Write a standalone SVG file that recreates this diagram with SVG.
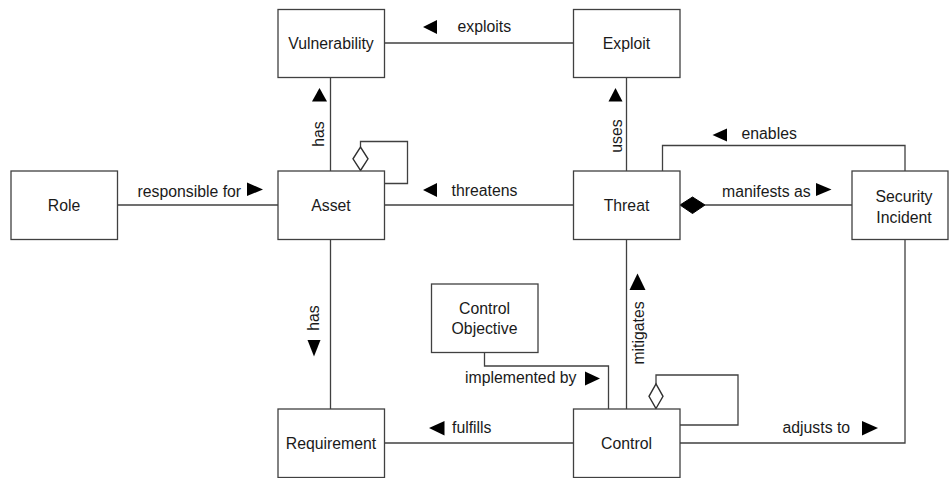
<svg xmlns="http://www.w3.org/2000/svg" width="949" height="478" viewBox="0 0 949 478">
<style>
.box{fill:#fff;stroke:#404040;stroke-width:1.3}
.ln{fill:none;stroke:#404040;stroke-width:1.3}
.t{font-family:"Liberation Sans",Arial,sans-serif;font-size:15.8px;fill:#1a1a1a;text-anchor:middle}
.l{font-family:"Liberation Sans",Arial,sans-serif;font-size:15.8px;fill:#1a1a1a}
.tri{fill:#000}
.od{fill:#fff;stroke:#303030;stroke-width:1.4}
.fd{fill:#000;stroke:#000;stroke-width:1}
</style>
<rect width="949" height="478" fill="#fff"/>
<g id="connectors">
<path class="ln" d="M384.5 43H573.5"/>
<path class="ln" d="M330.5 77.5V171"/>
<path class="ln" d="M360.5 147V141.5H407.5V183.5H384.5"/>
<path class="ln" d="M384.5 205H573.5"/>
<path class="ln" d="M117.5 205H278"/>
<path class="ln" d="M626.5 77.5V171"/>
<path class="ln" d="M662.5 171V145.5H905V171"/>
<path class="ln" d="M705 205H852"/>
<path class="ln" d="M330.5 239.5V409"/>
<path class="ln" d="M626.5 239.5V409"/>
<path class="ln" d="M484.5 352.5V366H608.5V409"/>
<path class="ln" d="M656 384V375H738V425H680"/>
<path class="ln" d="M384.5 443H573.5"/>
<path class="ln" d="M680 443H905V239.5"/>
<polygon class="od" points="360.5,170.5 368,158.8 360.5,147 353,158.8"/>
<polygon class="fd" points="680,205 692.5,197 705,205 692.5,213.5"/>
<polygon class="od" points="656,408.5 663,396.3 656,384 649,396.3"/>
<polygon class="tri" points="423,27 437,20 437,34"/>
<polygon class="tri" points="423,190 437,183 437,197"/>
<polygon class="tri" points="712.5,135 727,128.5 727,141.5"/>
<polygon class="tri" points="429,428 444.5,421 444.5,435.5"/>
<polygon class="tri" points="263,189.5 247,182.5 247,196"/>
<polygon class="tri" points="831.5,189.5 816,183 816,196"/>
<polygon class="tri" points="600,378.5 585,371.5 585,385.5"/>
<polygon class="tri" points="878,428 862,421 862,435.5"/>
<polygon class="tri" points="319.5,88 327,101.5 312,101.5"/>
<polygon class="tri" points="314,356.5 307.5,340 320.5,340"/>
<polygon class="tri" points="615.5,88 622.5,101.5 608.5,101.5"/>
<polygon class="tri" points="637.5,273.5 645.5,290 629.5,290"/>
<text class="l" x="457.5" y="32">exploits</text>
<text class="l" x="451.5" y="195.5">threatens</text>
<text class="l" x="741.5" y="139">enables</text>
<text class="l" x="722" y="197">manifests as</text>
<text class="l" x="137.5" y="197">responsible for</text>
<text class="l" x="465" y="382.5">implemented by</text>
<text class="l" x="452" y="433">fulfills</text>
<text class="l" x="782.5" y="433">adjusts to</text>
<text class="t" transform="translate(324,134) rotate(-90)">has</text>
<text class="t" transform="translate(319,318) rotate(-90)">has</text>
<text class="t" transform="translate(621.5,136) rotate(-90)">uses</text>
<text class="t" transform="translate(644,333) rotate(-90)">mitigates</text>
</g>
<g id="vulnerability"><rect class="box" x="278" y="9.5" width="106.5" height="68"/><text class="t" x="331" y="48.5">Vulnerability</text></g>
<g id="exploit"><rect class="box" x="573.5" y="9.5" width="106.5" height="68"/><text class="t" x="626.5" y="48.5">Exploit</text></g>
<g id="role"><rect class="box" x="11" y="171" width="106.5" height="68.5"/><text class="t" x="64" y="211">Role</text></g>
<g id="asset"><rect class="box" x="278" y="171" width="106.5" height="68.5"/><text class="t" x="331" y="211">Asset</text></g>
<g id="threat"><rect class="box" x="573.5" y="171" width="106.5" height="68.5"/><text class="t" x="626.5" y="211">Threat</text></g>
<g id="security-incident"><rect class="box" x="852" y="171" width="96" height="68.5"/><text class="t" x="904" y="202">Security</text><text class="t" x="904" y="222.5">Incident</text></g>
<g id="control-objective"><rect class="box" x="431.5" y="284" width="106.5" height="68.5"/><text class="t" x="484.5" y="313.5">Control</text><text class="t" x="484.5" y="333.5">Objective</text></g>
<g id="requirement"><rect class="box" x="278" y="409" width="106.5" height="68.5"/><text class="t" x="331" y="449">Requirement</text></g>
<g id="control"><rect class="box" x="573.5" y="409" width="106.5" height="68.5"/><text class="t" x="626.5" y="449">Control</text></g>
</svg>
